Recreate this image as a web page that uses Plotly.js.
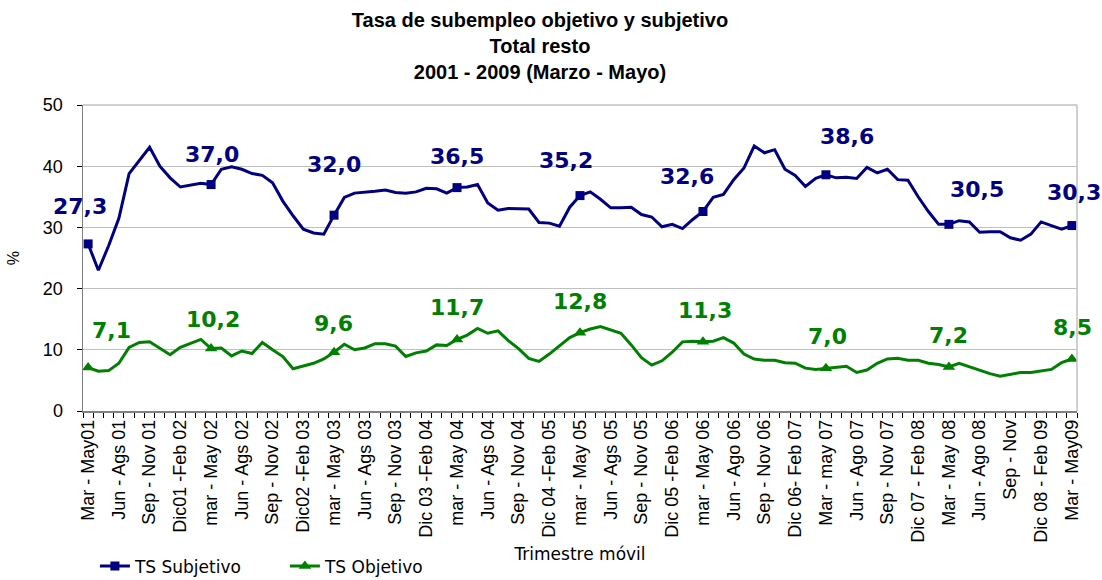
<!DOCTYPE html>
<html>
<head>
<meta charset="utf-8">
<script src="https://cdn.plot.ly/plotly-3.0.1.min.js"></script>
<style>html,body{margin:0;padding:0;background:#fff;}#chart{width:1102px;height:580px;}</style>
</head>
<body>
<div id="chart"></div>
<script>
// Monthly rolling quarters, Mar-May 2001 .. Mar-May 2009 (97 periods)
const tsSubjetivo = [
  27.3, 23.0, 27.0, 31.5, 38.8, 41.0, 43.1, 40.0, 38.1, 36.6, 36.9, 37.2,
  37.0, 39.5, 39.9, 39.5, 38.8, 38.5, 37.3, 34.3, 31.9, 29.7, 29.1, 28.9,
  32.0, 34.9, 35.6, 35.7, 35.9, 36.1, 35.7, 35.6, 35.8, 36.4, 36.3, 35.6,
  36.5, 36.6, 37.0, 34.0, 32.8, 33.1, 33.1, 33.0, 30.8, 30.7, 30.2, 33.3,
  35.2, 35.8, 34.6, 33.2, 33.2, 33.3, 32.1, 31.7, 30.1, 30.5, 29.8, 31.3,
  32.6, 34.9, 35.4, 37.8, 39.7, 43.3, 42.2, 42.7, 39.5, 38.5, 36.7, 38.0,
  38.6, 38.1, 38.2, 38.0, 39.8, 38.9, 39.5, 37.8, 37.7, 35.0, 32.6, 30.5,
  30.5, 31.1, 30.9, 29.2, 29.3, 29.3, 28.3, 27.9, 28.9, 30.9, 30.3, 29.7,
  30.3
];
const tsObjetivo = [
  7.1, 6.5, 6.6, 7.8, 10.4, 11.2, 11.3, 10.3, 9.2, 10.4, 11.0, 11.7,
  10.2, 10.3, 9.0, 9.8, 9.4, 11.2, 10.0, 8.9, 6.9, 7.3, 7.8, 8.5,
  9.6, 10.9, 10.0, 10.3, 11.0, 11.0, 10.6, 8.9, 9.5, 9.8, 10.8, 10.7,
  11.7, 12.4, 13.5, 12.7, 13.1, 11.5, 10.2, 8.6, 8.1, 9.3, 10.7, 12.0,
  12.8, 13.4, 13.8, 13.2, 12.7, 10.8, 8.7, 7.5, 8.2, 9.6, 11.3, 11.4,
  11.3, 11.4, 12.0, 11.1, 9.3, 8.5, 8.3, 8.3, 7.9, 7.8, 7.0, 6.8,
  7.0, 7.2, 7.3, 6.3, 6.7, 7.8, 8.5, 8.6, 8.3, 8.3, 7.8, 7.6,
  7.2, 7.8, 7.2, 6.6, 6.1, 5.7, 6.0, 6.3, 6.3, 6.5, 6.8, 7.9,
  8.5
];
const tickLabels = [
  "Mar - May01", "Jun - Ags 01", "Sep - Nov 01", "Dic01 -Feb 02",
  "mar - May 02", "Jun - Ags 02", "Sep - Nov 02", "Dic02 -Feb 03",
  "mar - May 03", "Jun - Ags 03", "Sep - Nov 03", "Dic 03 -Feb 04",
  "mar - May 04", "Jun - Ags 04", "Sep - Nov 04", "Dic 04 -Feb 05",
  "mar - May 05", "Jun - Ags 05", "Sep - Nov 05", "Dic 05 -Feb 06",
  "mar - May 06", "Jun - Ago 06", "Sep - Nov 06", "Dic 06- Feb 07",
  "Mar - may 07", "Jun - Ago 07", "Sep - Nov 07", "Dic 07 - Feb 08",
  "Mar - May 08", "Jun - Ago 08", "Sep - Nov", "Dic 08 - Feb 09",
  "Mar - May09"
];
const seriesNames = ["TS Subjetivo", "TS Objetivo"];

// styling / label placement (pixel offsets of the value labels)
const labelShiftSubj = [[-8,37],[1,30],[0,51],[0,31],[-14,35],[-16,35],[21,38],[28,35],[2,33]];
const labelShiftObj  = [[23,37],[2,29],[-1,29],[0,32],[0,31],[2,31],[2,32],[0,31],[1,31]];
const BLUE = '#000080', GREEN = '#008000';

const xIdx = tsSubjetivo.map((_, i) => i);
const markIdx = xIdx.filter(i => i % 12 === 0);
const tickPos = tickLabels.map((_, k) => k * 3);
const fmt = v => v.toFixed(1).replace('.', ',');

const traces = [
  {x: xIdx, y: tsSubjetivo, mode: 'lines', line: {color: BLUE, width: 3}, showlegend: false, hoverinfo: 'skip'},
  {x: xIdx, y: tsObjetivo, mode: 'lines', line: {color: GREEN, width: 3}, showlegend: false, hoverinfo: 'skip'},
  {x: markIdx, y: markIdx.map(i => tsSubjetivo[i]), mode: 'markers', marker: {symbol: 'square', size: 9, color: BLUE}, showlegend: false},
  {x: markIdx, y: markIdx.map(i => tsObjetivo[i]), mode: 'markers', marker: {symbol: 'triangle-up', size: 11, color: GREEN}, showlegend: false},
  {x: [null], y: [null], mode: 'lines+markers', name: seriesNames[0], line: {color: BLUE, width: 3}, marker: {symbol: 'square', size: 9, color: BLUE}},
  {x: [null], y: [null], mode: 'lines+markers', name: seriesNames[1], line: {color: GREEN, width: 3}, marker: {symbol: 'triangle-up', size: 11, color: GREEN}}
];

const annotations = [];
markIdx.forEach((i, k) => {
  annotations.push({x: i, y: tsSubjetivo[i], xref: 'x', yref: 'y', text: fmt(tsSubjetivo[i]), showarrow: false,
    xshift: labelShiftSubj[k][0], yshift: labelShiftSubj[k][1], xanchor: 'center', yanchor: 'middle',
    font: {family: 'DejaVu Sans', size: 22, color: BLUE, weight: 'bold'}});
  annotations.push({x: i, y: tsObjetivo[i], xref: 'x', yref: 'y', text: fmt(tsObjetivo[i]), showarrow: false,
    xshift: labelShiftObj[k][0], yshift: labelShiftObj[k][1], xanchor: 'center', yanchor: 'middle',
    font: {family: 'DejaVu Sans', size: 22, color: GREEN, weight: 'bold'}});
});

const layout = {
  width: 1102, height: 580,
  margin: {l: 83, r: 25, t: 105, b: 169, autoexpand: false},
  paper_bgcolor: '#fff', plot_bgcolor: '#fff',
  font: {family: 'Liberation Sans, Arial, sans-serif', color: '#000'},
  title: {
    text: '<b>Tasa de subempleo objetivo y subjetivo<br>Total resto<br>2001 - 2009 (Marzo - Mayo)</b>',
    font: {family: 'Liberation Sans Narrow, Arial Narrow, Liberation Sans, sans-serif', size: 20, color: '#000'},
    x: 0.49, xref: 'container', xanchor: 'center', y: 0.953, yref: 'container', yanchor: 'top'
  },
  xaxis: {
    range: [-0.5, 96.5], tickmode: 'array', tickvals: tickPos, ticktext: tickLabels,
    tickangle: -90, ticks: '', ticklen: 0,
    tickfont: {family: 'Liberation Sans, Arial, sans-serif', size: 18, color: '#000'},
    minor: {tickmode: 'linear', tick0: -0.5, dtick: 1, ticks: 'outside', ticklen: 5, tickcolor: '#000', tickwidth: 1, showgrid: false},
    showline: true, linecolor: '#808080', linewidth: 1.5, showgrid: false, zeroline: false,
    title: {text: 'Trimestre móvil', font: {family: 'DejaVu Sans', size: 17, color: '#000'}, standoff: 6},
    automargin: false
  },
  yaxis: {
    range: [0, 50], dtick: 10, tick0: 0, ticks: 'outside', ticklen: 5, tickcolor: '#000',
    tickfont: {family: 'Liberation Sans, Arial, sans-serif', size: 18, color: '#000'},
    ticklabelstandoff: 10,
    showline: true, linecolor: '#808080', linewidth: 1.5,
    showgrid: true, gridcolor: '#c0c0c0', gridwidth: 1, zeroline: false,
    title: {text: '%', font: {family: 'Liberation Sans, Arial, sans-serif', size: 16, color: '#000'}, standoff: 19},
    automargin: false
  },
  shapes: [
    {type: 'line', xref: 'paper', yref: 'paper', x0: 0, x1: 1, y0: 1, y1: 1, line: {color: '#c0c0c0', width: 1.5}},
    {type: 'line', xref: 'paper', yref: 'paper', x0: 1, x1: 1, y0: 0, y1: 1, line: {color: '#c0c0c0', width: 1.5}}
  ],
  legend: {
    orientation: 'h', x: 0.012, xanchor: 'left', y: -0.508, yanchor: 'middle',
    font: {family: 'DejaVu Sans', size: 17, color: '#000'}, bgcolor: 'rgba(0,0,0,0)', traceorder: 'normal',
    itemwidth: 30, entrywidth: 145
  },
  annotations: annotations,
  showlegend: true
};

Plotly.newPlot('chart', traces, layout, {displayModeBar: false, staticPlot: true});
</script>
</body>
</html>
